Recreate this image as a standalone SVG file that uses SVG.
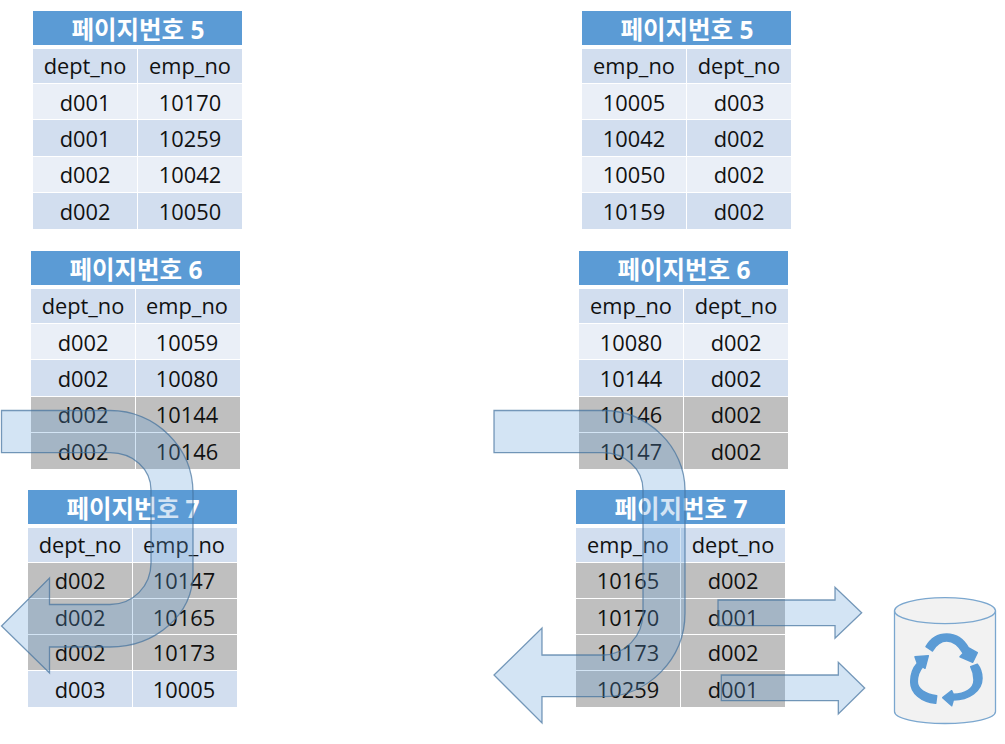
<svg xmlns="http://www.w3.org/2000/svg" width="1005" height="744" viewBox="0 0 1005 744">
<style>
.bg{fill:#fff}
.h{fill:#5b9bd5}
.th,.e{fill:#d2deef}
.o{fill:#eaeff7}
.g{fill:#bfbfbf}
text{text-anchor:middle;font-family:"Open Sans","Noto Sans CJK KR",sans-serif}
.t{font-size:24.5px;font-weight:700;fill:#fff;font-family:"Noto Sans","Noto Sans CJK KR",sans-serif}
.c{font-size:21.8px;fill:#111}
.a{fill:#5b9bd5;fill-opacity:.27;stroke:#41719c;stroke-opacity:.7;stroke-width:1.3}
.cy{fill:#f2f2f2;stroke:#7ba7cf;stroke-width:1.3}
.r{fill:#5b9bd5;stroke:#5b9bd5;stroke-width:1.5;stroke-linejoin:round}
</style>
<rect class="bg" width="1005" height="744"/>
<g id="left-page-5" transform="translate(33 11)">
<rect class="h" width="209" height="34"/><text class="t" x="105" y="27.5">페이지번호 5</text>
<rect class="th" y="38" width="104" height="34"/><rect class="th" x="105" y="38" width="104" height="34"/>
<rect class="o" y="73" width="104" height="35"/><rect class="o" x="105" y="73" width="104" height="35"/>
<rect class="e" y="109" width="104" height="36"/><rect class="e" x="105" y="109" width="104" height="36"/>
<rect class="o" y="146" width="104" height="35"/><rect class="o" x="105" y="146" width="104" height="35"/>
<rect class="e" y="182" width="104" height="36"/><rect class="e" x="105" y="182" width="104" height="36"/>
<text class="c" x="52" y="63">dept_no</text><text class="c" x="157" y="63">emp_no</text>
<text class="c" x="52" y="100">d001</text><text class="c" x="157" y="100">10170</text>
<text class="c" x="52" y="136">d001</text><text class="c" x="157" y="136">10259</text>
<text class="c" x="52" y="172">d002</text><text class="c" x="157" y="172">10042</text>
<text class="c" x="52" y="209">d002</text><text class="c" x="157" y="209">10050</text>
</g>
<g id="left-page-6" transform="translate(31 251)">
<rect class="h" width="209" height="34"/><text class="t" x="105" y="27.5">페이지번호 6</text>
<rect class="th" y="38" width="104" height="34"/><rect class="th" x="105" y="38" width="104" height="34"/>
<rect class="o" y="73" width="104" height="35"/><rect class="o" x="105" y="73" width="104" height="35"/>
<rect class="e" y="109" width="104" height="36"/><rect class="e" x="105" y="109" width="104" height="36"/>
<rect class="g" y="146" width="104" height="35"/><rect class="g" x="105" y="146" width="104" height="35"/>
<rect class="g" y="182" width="104" height="36"/><rect class="g" x="105" y="182" width="104" height="36"/>
<text class="c" x="52" y="63">dept_no</text><text class="c" x="156" y="63">emp_no</text>
<text class="c" x="52" y="100">d002</text><text class="c" x="156" y="100">10059</text>
<text class="c" x="52" y="136">d002</text><text class="c" x="156" y="136">10080</text>
<text class="c" x="52" y="172">d002</text><text class="c" x="156" y="172">10144</text>
<text class="c" x="52" y="209">d002</text><text class="c" x="156" y="209">10146</text>
</g>
<g id="left-page-7" transform="translate(28 490)">
<rect class="h" width="209" height="34"/><text class="t" x="105" y="27.5">페이지번호 7</text>
<rect class="th" y="38" width="104" height="34"/><rect class="th" x="105" y="38" width="104" height="34"/>
<rect class="g" y="73" width="104" height="35"/><rect class="g" x="105" y="73" width="104" height="35"/>
<rect class="g" y="109" width="104" height="35"/><rect class="g" x="105" y="109" width="104" height="35"/>
<rect class="g" y="145" width="104" height="35"/><rect class="g" x="105" y="145" width="104" height="35"/>
<rect class="e" y="181" width="104" height="36"/><rect class="e" x="105" y="181" width="104" height="36"/>
<text class="c" x="52" y="63">dept_no</text><text class="c" x="156" y="63">emp_no</text>
<text class="c" x="52" y="99">d002</text><text class="c" x="156" y="99">10147</text>
<text class="c" x="52" y="136">d002</text><text class="c" x="156" y="136">10165</text>
<text class="c" x="52" y="171">d002</text><text class="c" x="156" y="171">10173</text>
<text class="c" x="52" y="208">d003</text><text class="c" x="156" y="208">10005</text>
</g>
<g id="right-page-5" transform="translate(582 11)">
<rect class="h" width="209" height="34"/><text class="t" x="105" y="27.5">페이지번호 5</text>
<rect class="th" y="38" width="104" height="34"/><rect class="th" x="105" y="38" width="104" height="34"/>
<rect class="o" y="73" width="104" height="35"/><rect class="o" x="105" y="73" width="104" height="35"/>
<rect class="e" y="109" width="104" height="36"/><rect class="e" x="105" y="109" width="104" height="36"/>
<rect class="o" y="146" width="104" height="35"/><rect class="o" x="105" y="146" width="104" height="35"/>
<rect class="e" y="182" width="104" height="36"/><rect class="e" x="105" y="182" width="104" height="36"/>
<text class="c" x="52" y="63">emp_no</text><text class="c" x="157" y="63">dept_no</text>
<text class="c" x="52" y="100">10005</text><text class="c" x="157" y="100">d003</text>
<text class="c" x="52" y="136">10042</text><text class="c" x="157" y="136">d002</text>
<text class="c" x="52" y="172">10050</text><text class="c" x="157" y="172">d002</text>
<text class="c" x="52" y="209">10159</text><text class="c" x="157" y="209">d002</text>
</g>
<g id="right-page-6" transform="translate(579 251)">
<rect class="h" width="209" height="34"/><text class="t" x="105" y="27.5">페이지번호 6</text>
<rect class="th" y="38" width="104" height="34"/><rect class="th" x="105" y="38" width="104" height="34"/>
<rect class="o" y="73" width="104" height="35"/><rect class="o" x="105" y="73" width="104" height="35"/>
<rect class="e" y="109" width="104" height="36"/><rect class="e" x="105" y="109" width="104" height="36"/>
<rect class="g" y="146" width="104" height="35"/><rect class="g" x="105" y="146" width="104" height="35"/>
<rect class="g" y="182" width="104" height="36"/><rect class="g" x="105" y="182" width="104" height="36"/>
<text class="c" x="52" y="63">emp_no</text><text class="c" x="157" y="63">dept_no</text>
<text class="c" x="52" y="100">10080</text><text class="c" x="157" y="100">d002</text>
<text class="c" x="52" y="136">10144</text><text class="c" x="157" y="136">d002</text>
<text class="c" x="52" y="172">10146</text><text class="c" x="157" y="172">d002</text>
<text class="c" x="52" y="209">10147</text><text class="c" x="157" y="209">d002</text>
</g>
<g id="right-page-7" transform="translate(576 490)">
<rect class="h" width="209" height="34"/><text class="t" x="105" y="27.5">페이지번호 7</text>
<rect class="th" y="38" width="104" height="34"/><rect class="th" x="105" y="38" width="104" height="34"/>
<rect class="g" y="73" width="104" height="35"/><rect class="g" x="105" y="73" width="104" height="35"/>
<rect class="g" y="109" width="104" height="35"/><rect class="g" x="105" y="109" width="104" height="35"/>
<rect class="g" y="145" width="104" height="35"/><rect class="g" x="105" y="145" width="104" height="35"/>
<rect class="g" y="181" width="104" height="36"/><rect class="g" x="105" y="181" width="104" height="36"/>
<text class="c" x="52" y="63">emp_no</text><text class="c" x="157" y="63">dept_no</text>
<text class="c" x="52" y="99">10165</text><text class="c" x="157" y="99">d002</text>
<text class="c" x="52" y="136">10170</text><text class="c" x="157" y="136">d001</text>
<text class="c" x="52" y="171">10173</text><text class="c" x="157" y="171">d002</text>
<text class="c" x="52" y="208">10259</text><text class="c" x="157" y="208">d001</text>
</g>
<g id="recycle-bin">
<path class="cy" d="M894.5 610.7V711.5C894.5 718.5 917 723.5 945 723.5S995.5 718.5 995.5 711.5V610.7"/>
<ellipse class="cy" cx="945" cy="610.7" rx="50.5" ry="13"/>
<path class="r" d="M926 646.7C931 638 939 634 946.7 634C957 634 964 640 968.3 647.7L977.3 652.7L972.7 662.3L960 656.7L963.3 653.3C959 646 953 641 946.7 641C941 641 936 645 932.3 651Z"/>
<path class="r" d="M977.3 664.3C981 669 982 674 982 678.3C982 691 969 700 953.3 700L951.7 705.7L942.7 697.7L951.7 690.7L953.3 694.3C965 694 974 689 974 680C974 675 973 671 970.7 666.7Z"/>
<path class="r" d="M928.3 655.7L915 656.7L917.3 663.3C913 668 910.7 675 910.7 681.7C910.7 693 921 702 935.7 703.3L936.7 695.7C925 694 917.3 689 917.3 681.7C917.3 676 919 671 922.7 666.7L925 668.3Z"/>
</g>
<g id="connectors">
<path class="a" d="M1.5 410.5H110C155 410.5 193 447 193 493V573C193 615 155 647 110 647H49.5V673L1.5 626L49.5 578V604.5H110C133 604.5 151 586 151 563V490C151 469 133 452.7 110 452.7H1.5Z"/>
<path class="a" d="M494 410.5H603C648 410.5 685 447 685 490V613C685 659 648 696.7 603 696.7H542V723L494 675L542 628V655H603C625 655 643 636 643 613V490C643 469 625 452.7 603 452.7H494Z"/>
<path class="a" d="M718 600H835V587.3L861.7 612.7L835 638.3V625.7H718Z"/>
<path class="a" d="M721.3 675H838.3V662.3L864.7 688L838.3 714V700.7H721.3Z"/>
</g>
</svg>
